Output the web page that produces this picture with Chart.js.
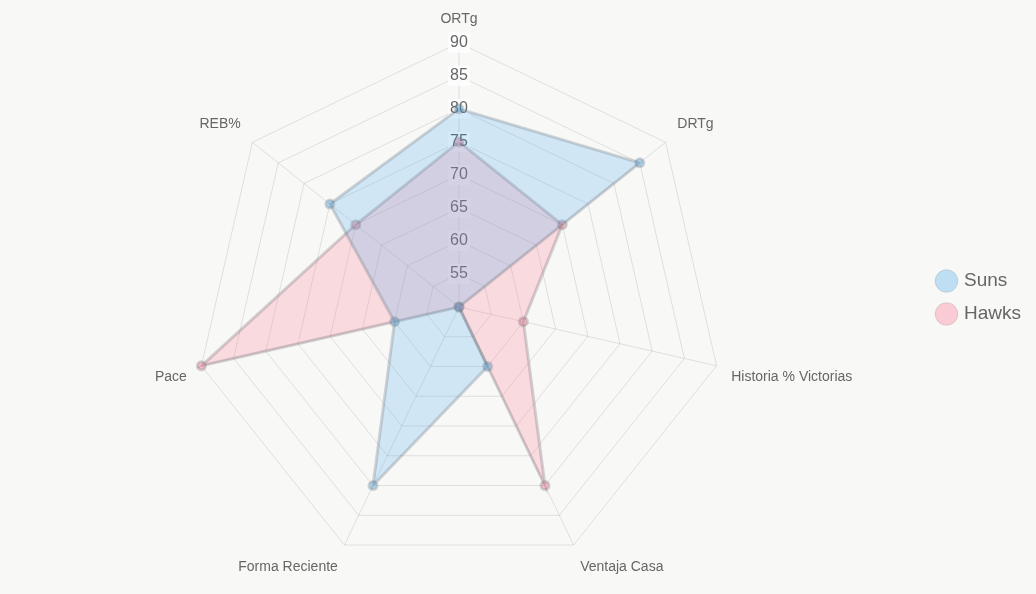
<!DOCTYPE html>
<html>
<head>
<meta charset="utf-8">
<script src="https://cdn.jsdelivr.net/npm/chart.js@4"></script>
<style>
  html, body { margin:0; padding:0; background:#f8f8f7; }
  #wrap { width:1036px; height:594px; position:relative; }
</style>
</head>
<body>
<div id="wrap"><canvas id="c"></canvas></div>
<script>
const categories = ["ORTg", "DRTg", "Historia % Victorias", "Ventaja Casa", "Forma Reciente", "Pace", "REB%"];
const sunsValues = [80, 85, 50, 60, 80, 60, 75];
const hawksValues = [75, 70, 60, 80, 50, 90, 70];
const seriesNames = ["Suns", "Hawks"];

Chart.defaults.font.family = "'Liberation Sans', Arial, Helvetica, sans-serif";

const legendShift = {
  id: 'legendShift',
  afterLayout(chart) {
    if (chart.legend) {
      chart.legend.left += 5;
      chart.legend.right += 5;
    }
  }
};

new Chart(document.getElementById('c'), {
  type: 'radar',
  data: {
    labels: categories,
    datasets: [
      {
        label: seriesNames[0],
        data: sunsValues,
        backgroundColor: 'rgba(54,162,235,0.2)',
        borderColor: 'rgba(110,120,130,0.3)',
        borderWidth: 3,
        pointBackgroundColor: 'rgba(54,162,235,0.3)',
        pointBorderColor: 'rgba(110,120,130,0.3)',
        pointRadius: 4
      },
      {
        label: seriesNames[1],
        data: hawksValues,
        backgroundColor: 'rgba(255,99,132,0.2)',
        borderColor: 'rgba(120,110,115,0.3)',
        borderWidth: 3,
        pointBackgroundColor: 'rgba(255,99,132,0.3)',
        pointBorderColor: 'rgba(120,110,115,0.3)',
        pointRadius: 4
      }
    ]
  },
  plugins: [legendShift],
  options: {
    responsive: true,
    maintainAspectRatio: false,
    animation: false,
    layout: { padding: { top: 1, bottom: 0, right: 10 } },
    plugins: {
      legend: {
        position: 'right',
        labels: {
          usePointStyle: true,
          pointStyle: 'circle',
          boxWidth: 16,
          boxHeight: 16,
          padding: 14,
          font: { size: 19 },
          color: '#666',
          generateLabels: function(chart) {
            const items = Chart.defaults.plugins.legend.labels.generateLabels(chart);
            items.forEach(function(it) { it.lineWidth = 1; it.strokeStyle = 'rgba(150,150,150,0.3)'; });
            return items;
          }
        }
      },
      tooltip: { enabled: false }
    },
    scales: {
      r: {
        min: 50,
        max: 90,
        ticks: {
          stepSize: 5,
          font: { size: 16 },
          color: '#666',
          backdropColor: 'rgba(255,255,255,0.75)'
        },
        pointLabels: {
          font: { size: 14 },
          color: '#666'
        },
        grid: { color: 'rgba(0,0,0,0.1)' },
        angleLines: { color: 'rgba(0,0,0,0.1)' }
      }
    }
  }
});
</script>
</body>
</html>
